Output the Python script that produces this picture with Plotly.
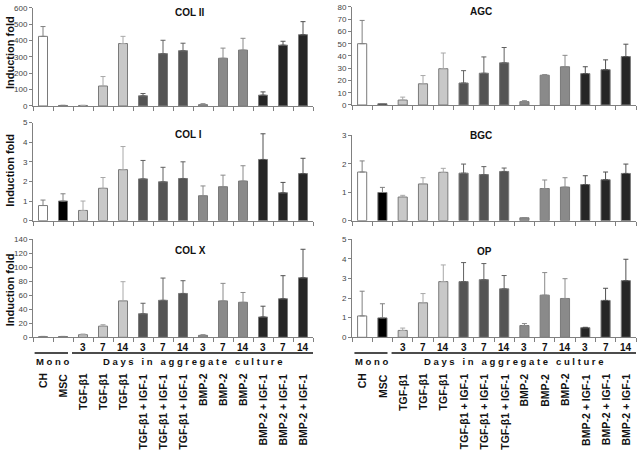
import plotly.graph_objects as go

W, H = 640, 456

categories = ["CH", "MSC", "TGF-β1", "TGF-β1", "TGF-β1",
              "TGF-β1 + IGF-1", "TGF-β1 + IGF-1", "TGF-β1 + IGF-1",
              "BMP-2", "BMP-2", "BMP-2",
              "BMP-2 + IGF-1", "BMP-2 + IGF-1", "BMP-2 + IGF-1"]
days = ["", "", "3", "7", "14", "3", "7", "14", "3", "7", "14", "3", "7", "14"]

col2_val = [426, 3, 3, 122, 382, 62, 320, 338, 8, 292, 342, 66, 372, 436]
col2_err = [60, 1, 1, 58, 44, 14, 82, 46, 6, 62, 72, 20, 24, 80]

agc_val = [50, 1, 4, 17.3, 29.6, 17.9, 25.9, 34.4, 2.7, 24.3, 31.2, 25.6, 28.8, 39.5]
agc_err = [19, 0.2, 2.4, 6.7, 12.8, 10.1, 13.3, 12.5, 0.8, 0.5, 9.3, 5.6, 8, 10.1]

col1_val = [0.77, 1.0, 0.52, 1.65, 2.6, 2.13, 1.98, 2.15, 1.27, 1.73, 2.02, 3.12, 1.42, 2.4]
col1_err = [0.28, 0.37, 0.48, 0.55, 1.18, 0.94, 0.74, 0.85, 0.5, 0.59, 0.78, 1.31, 0.53, 0.78]

bgc_val = [1.71, 0.99, 0.83, 1.29, 1.70, 1.67, 1.62, 1.73, 0.1, 1.13, 1.18, 1.27, 1.44, 1.66]
bgc_err = [0.39, 0.18, 0.06, 0.22, 0.14, 0.32, 0.28, 0.12, 0.01, 0.30, 0.33, 0.31, 0.27, 0.33]

colx_val = [1, 1, 3.7, 15.9, 52, 33.6, 52.8, 62.6, 2.8, 52, 50, 29, 55, 85]
colx_err = [0.3, 0.3, 1, 2.1, 27.4, 15, 31.8, 18.2, 0.9, 25, 14, 15.4, 33, 40.7]

op_val = [1.09, 0.99, 0.35, 1.76, 2.84, 2.84, 2.94, 2.47, 0.6, 2.15, 1.98, 0.49, 1.88, 2.89]
op_err = [1.26, 0.72, 0.12, 0.47, 0.85, 0.97, 0.82, 0.68, 0.1, 1.15, 1.01, 0.02, 0.62, 1.09]

# groups: (indices, fill colour, error colour)
groups = [([0], "#ffffff", "#808080"),
          ([1], "#000000", "#808080"),
          ([2, 3, 4], "#c8c8c8", "#a8a8a8"),
          ([5, 6, 7], "#545454", "#606060"),
          ([8, 9, 10], "#8a8a8a", "#8a8a8a"),
          ([11, 12, 13], "#262626", "#505050")]

FONT = "Liberation Sans, Arial, sans-serif"

# panel: title, values, errors, ymax, dtick, x-domain px, y-domain px, title y px
panels = [
    ("COL II", col2_val, col2_err, 600, 100, (33, 313), (4, 104), 9),
    ("AGC", agc_val, agc_err, 80, 10, (352, 636), (3, 103), 8),
    ("COL I", col1_val, col1_err, 5, 1, (33, 313), (121, 221), 133),
    ("BGC", bgc_val, bgc_err, 3, 1, (352, 636), (134, 221), 134),
    ("COL X", colx_val, colx_err, 140, 20, (33, 313), (240, 340), 251),
    ("OP", op_val, op_err, 5, 1, (352, 636), (240, 340), 252),
]

fig = go.Figure()
layout = dict(width=W, height=H, margin=dict(l=0, r=0, t=0, b=0),
              paper_bgcolor="white", plot_bgcolor="white",
              showlegend=False, barmode="overlay",
              font=dict(family=FONT, color="#333333"))
annotations = []
shapes = []

n = len(categories)
xs_all = list(range(n))
for p, (title, vals, errs, ymax, dt, (x0, x1), (y0, y1), ty) in enumerate(panels):
    k = p + 1
    xa = "x" if k == 1 else f"x{k}"
    ya = "y" if k == 1 else f"y{k}"
    for idx, fill, ecol in groups:
        fig.add_trace(go.Bar(
            x=[xs_all[i] for i in idx], y=[vals[i] for i in idx],
            width=0.45, xaxis=xa, yaxis=ya,
            marker=dict(color=fill, line=dict(color="#7a7a7a", width=1)),
            error_y=dict(type="data", symmetric=False,
                         array=[errs[i] for i in idx],
                         arrayminus=[0 for _ in idx],
                         color=ecol, thickness=1, width=2.5),
            hoverinfo="skip"))
    layout[f"xaxis{'' if k == 1 else k}"] = dict(
        domain=[x0 / W, x1 / W], range=[-0.5, n - 0.5], anchor=ya,
        showgrid=False, zeroline=False, showline=True, linecolor="#808080",
        linewidth=1, ticks="outside", ticklen=4, tickcolor="#808080",
        tickvals=[i - 0.5 for i in range(n + 1)], showticklabels=False)
    layout[f"yaxis{'' if k == 1 else k}"] = dict(
        domain=[1 - y1 / H, 1 - y0 / H], range=[0, ymax], anchor=xa,
        showgrid=False, zeroline=False, showline=True, linecolor="#808080",
        linewidth=1, ticks="outside", ticklen=3, tickcolor="#808080",
        dtick=dt, tickfont=dict(size=8, color="#444444", family=FONT))
    annotations.append(dict(text=f"<b>{title}</b>", x=(x0 + x1) / 2 / W, y=1 - ty / H,
                            xref="paper", yref="paper", showarrow=False,
                            font=dict(size=10, color="#111111"), yanchor="middle"))

for yc in (50, 170, 292):
    annotations.append(dict(text="<b>Induction fold</b>", x=10 / W, y=1 - yc / H,
                            xref="paper", yref="paper", showarrow=False, textangle=-90,
                            font=dict(size=11, color="#111111"),
                            xanchor="center", yanchor="middle"))

for k, mono_x0, mono_x1, days_x0 in ((5, -0.42, 1.25, 1.45), (6, -0.38, 1.25, 1.45)):
    xa = f"x{k}"
    for i in range(n):
        if days[i]:
            annotations.append(dict(text=f"<b>{days[i]}</b>", x=i, y=1 - 350 / H,
                                    xref=xa, yref="paper", showarrow=False,
                                    font=dict(size=10, color="#111111"), yanchor="middle"))
        annotations.append(dict(text=f"<b>{categories[i]}</b>", x=i, y=1 - 375 / H,
                                xref=xa, yref="paper", showarrow=False, textangle=-90,
                                font=dict(size=10.5, color="#111111"),
                                xanchor="center", yanchor="top"))
    shapes.append(dict(type="line", xref=xa, yref="paper", x0=mono_x0, x1=mono_x1,
                       y0=1 - 356 / H, y1=1 - 356 / H, line=dict(color="#111111", width=1.5)))
    shapes.append(dict(type="line", xref=xa, yref="paper", x0=days_x0, x1=n - 0.5,
                       y0=1 - 356 / H, y1=1 - 356 / H, line=dict(color="#111111", width=1.5)))
    annotations.append(dict(text="<b>M o n o</b>", x=0.45, y=1 - 365 / H,
                            xref=xa, yref="paper", showarrow=False,
                            font=dict(size=9.5, color="#111111"), yanchor="middle"))
    annotations.append(dict(text="<b>D a y s   i n   a g g r e g a t e   c u l t u r e</b>",
                            x=7.5, y=1 - 365 / H,
                            xref=xa, yref="paper", showarrow=False,
                            font=dict(size=9.5, color="#111111"), yanchor="middle"))

layout["annotations"] = annotations
layout["shapes"] = shapes
fig.update_layout(**layout)
fig.write_html("out.html", config={"displayModeBar": False, "staticPlot": True},
               post_script="document.body.style.margin='0';document.body.style.overflow='hidden';")
